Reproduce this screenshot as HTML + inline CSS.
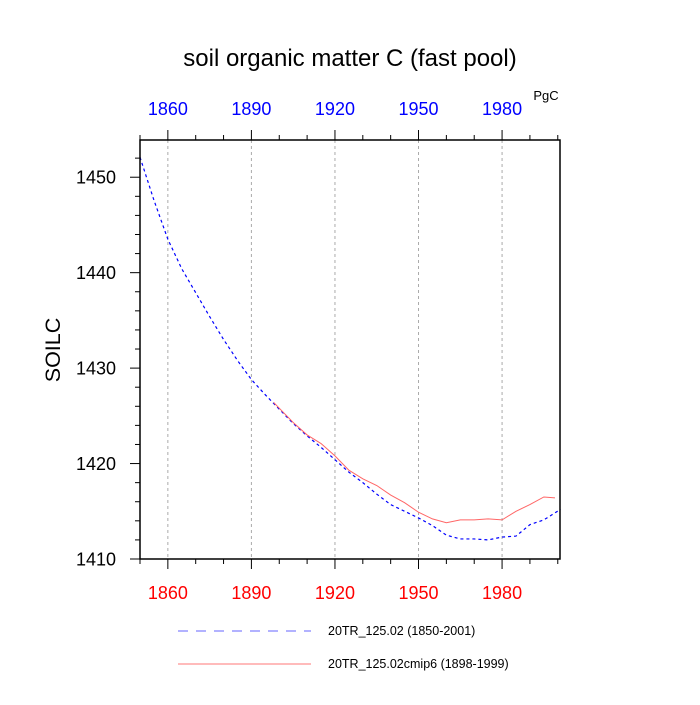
<!DOCTYPE html>
<html><head><meta charset="utf-8"><style>
body{margin:0;background:#fff;}
svg text{font-family:"Liberation Sans",sans-serif;}
</style></head><body>
<svg id="chart" width="700" height="700" xmlns="http://www.w3.org/2000/svg">
<text x="350" y="66" font-size="24" text-anchor="middle">soil organic matter C (fast pool)</text>
<text x="546" y="100" font-size="13" text-anchor="middle">PgC</text>
<text transform="translate(60,350) rotate(-90)" font-size="21.5" text-anchor="middle">SOILC</text>
<g id="grid"></g><g id="axes"></g><g id="series"></g>
<rect x="140" y="140" width="420" height="419" fill="none" stroke="#000" stroke-width="1.5"/>
<line x1="178" y1="631" x2="311" y2="631" stroke="#6666ff" stroke-dasharray="10,8"/>
<text x="328" y="635" font-size="12.5">20TR_125.02 (1850-2001)</text>
<line x1="178" y1="664" x2="311" y2="664" stroke="#ff7777"/>
<text x="328" y="668" font-size="12.5">20TR_125.02cmip6 (1898-1999)</text>
</svg>
<script>
const blueYears=[1850,1855,1860,1865,1870,1875,1880,1885,1890,1895,1900,1905,1910,1915,1920,1925,1930,1935,1940,1945,1950,1955,1960,1965,1970,1975,1980,1985,1990,1995,2001];
const blueValues=[1452.1,1447.6,1443.5,1440.4,1437.9,1435.4,1433.0,1430.8,1428.8,1427.2,1425.7,1424.2,1422.9,1421.7,1420.4,1419.1,1418.0,1416.8,1415.7,1415.0,1414.3,1413.5,1412.5,1412.1,1412.1,1412.0,1412.3,1412.4,1413.6,1414.1,1415.2];
const redYears=[1898,1900,1905,1910,1915,1920,1925,1930,1935,1940,1945,1950,1955,1960,1965,1970,1975,1980,1985,1990,1995,1999];
const redValues=[1426.4,1425.8,1424.3,1423.0,1422.1,1420.8,1419.3,1418.4,1417.7,1416.7,1415.9,1414.9,1414.2,1413.8,1414.1,1414.1,1414.2,1414.1,1415.0,1415.7,1416.5,1416.4];
const xTicks=[1860,1890,1920,1950,1980];
const yTicks=[1410,1420,1430,1440,1450];
const X0=1850,X1=2000.8,Y0=1410,Y1=1453.9;
const L=140,R=560,T=140,B=559;
const sx=v=>L+(v-X0)/(X1-X0)*(R-L);
const sy=v=>B-(v-Y0)/(Y1-Y0)*(B-T);
const NS="http://www.w3.org/2000/svg";
function mk(tag,attrs,parent){const e=document.createElementNS(NS,tag);for(const k in attrs)e.setAttribute(k,attrs[k]);document.getElementById(parent).appendChild(e);return e;}
xTicks.forEach(t=>{
 const g=mk('line',{x1:sx(t),x2:sx(t),y1:T,y2:B,stroke:'#aaa','stroke-dasharray':'3,3'},'grid');
 
 
 const b=mk('text',{x:sx(t),y:599,'font-size':18,fill:'#f00','text-anchor':'middle'},'axes');b.textContent=t;
 
 
 const u=mk('text',{x:sx(t),y:115,'font-size':18,fill:'#00f','text-anchor':'middle'},'axes');u.textContent=t;
 
 
});
for(let t=1850;t<=2000;t+=10){
 const major=xTicks.includes(t);const len=major?10:5;
 const a=mk('line',{x1:sx(t),x2:sx(t),y1:B,y2:B+len,stroke:'#000'},'axes');
 
 
 const c=mk('line',{x1:sx(t),x2:sx(t),y1:T,y2:T-len,stroke:'#000'},'axes');
 
 
}
for(let t=1410;t<=1452;t+=2){
 const major=yTicks.includes(t);const len=major?10:5;
 const a=mk('line',{x1:L,x2:L-len,y1:sy(t),y2:sy(t),stroke:'#000'},'axes');
 
 
}
yTicks.forEach(t=>{
 const e=mk('text',{x:116,y:sy(t)+6.5,'font-size':18,'text-anchor':'end'},'axes');e.textContent=t;
 
 
});
const bp=mk('polyline',{points:blueYears.map((y,i)=>sx(y)+','+sy(blueValues[i])).join(' '),fill:'none',stroke:'#0000ff','stroke-width':1.2,'stroke-dasharray':'3,3'},'series');


const rp=mk('polyline',{points:redYears.map((y,i)=>sx(y)+','+sy(redValues[i])).join(' '),fill:'none',stroke:'#ff6666','stroke-width':1},'series');


</script>
</body></html>
